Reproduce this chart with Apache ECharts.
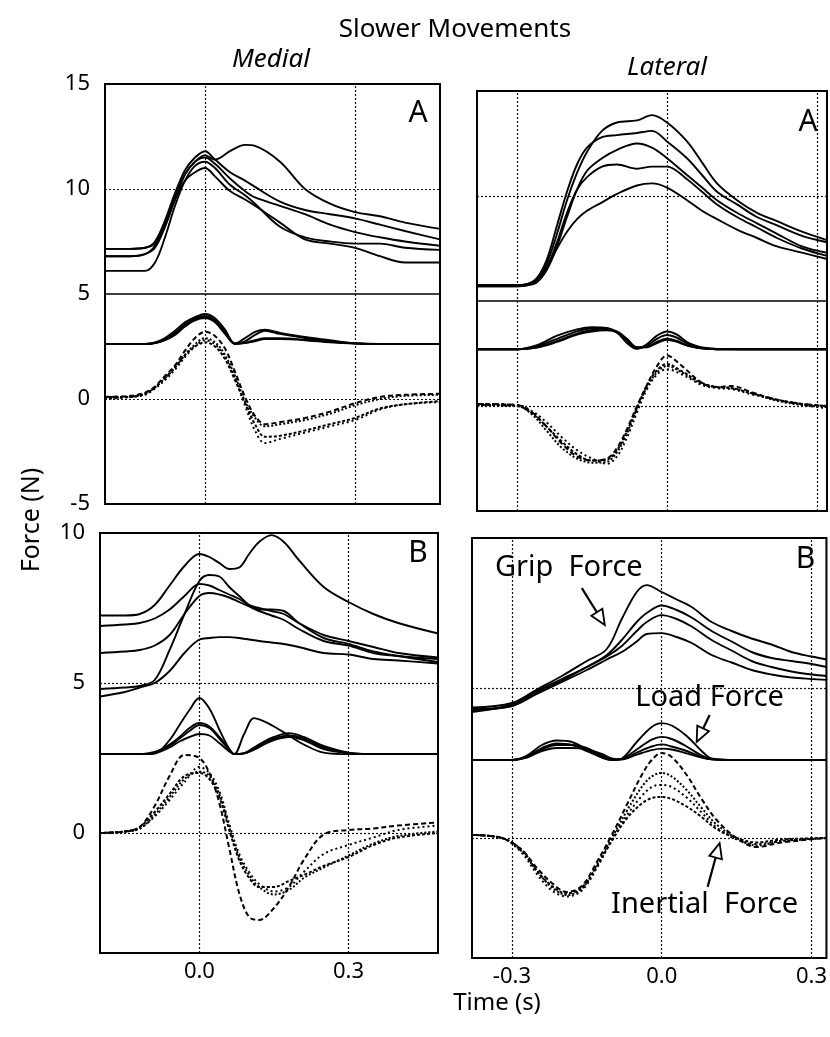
<!DOCTYPE html>
<html><head><meta charset="utf-8">
<script src="https://cdn.jsdelivr.net/npm/echarts@6/dist/echarts.min.js"></script>
<style>html,body{margin:0;padding:0;background:#fff}#c{width:830px;height:1037px}</style>
</head><body><div id="c"></div>
<script>
// ---------- DATA ----------
// Top-left: Medial A
const tlGripT = [-0.2,-0.15,-0.12,-0.1,-0.08,-0.06,-0.04,-0.02,0,0.02,0.05,0.08,0.1,0.15,0.2,0.25,0.3,0.35,0.4,0.47];
const tlGrip = [
 [6.8,6.8,6.9,7.3,8.3,9.6,10.7,11.3,11.6,11.4,11.8,12.1,12.05,11.3,10.0,9.3,8.9,8.7,8.4,8.1],
 [7.15,7.15,7.2,7.5,8.5,9.8,10.9,11.5,11.8,11.4,10.8,10.4,10.1,9.4,9.0,8.8,8.6,8.3,8.0,7.6],
 [6.8,6.8,6.9,7.2,8.2,9.5,10.7,11.3,11.5,11.2,10.5,9.9,9.6,9.2,8.8,8.3,7.95,7.7,7.5,7.3],
 [6.1,6.1,6.1,6.5,7.7,9.2,10.4,11.1,11.3,11.0,10.2,9.7,9.3,8.2,7.7,7.5,7.4,7.4,7.2,7.1],
 [7.15,7.15,7.2,7.4,8.3,9.5,10.4,10.8,11.0,10.6,9.9,9.5,9.2,8.4,7.6,7.4,7.2,6.8,6.5,6.5]
];
const tlLoadT = [-0.2,-0.12,-0.1,-0.08,-0.06,-0.04,-0.02,0,0.02,0.04,0.06,0.08,0.1,0.12,0.15,0.2,0.25,0.3,0.35,0.47];
const tlLoad = [
 [2.62,2.62,2.7,2.9,3.25,3.65,3.9,4.05,3.85,3.3,2.65,2.9,3.2,3.3,3.15,2.95,2.8,2.65,2.62,2.62],
 [2.62,2.62,2.68,2.85,3.15,3.55,3.85,3.95,3.75,3.2,2.63,2.75,3.05,3.25,3.1,2.9,2.75,2.65,2.62,2.62],
 [2.62,2.62,2.66,2.8,3.05,3.45,3.75,3.85,3.65,3.1,2.63,2.66,2.75,2.85,2.85,2.8,2.7,2.64,2.62,2.62],
 [2.62,2.62,2.66,2.82,3.1,3.5,3.8,3.9,3.7,3.15,2.63,2.68,2.8,2.9,2.9,2.82,2.72,2.65,2.62,2.62]
];
const tlInT = [-0.2,-0.15,-0.12,-0.1,-0.08,-0.06,-0.04,-0.02,0,0.02,0.04,0.06,0.08,0.1,0.12,0.15,0.2,0.25,0.3,0.35,0.4,0.47];
const tlIn = [
 [0.1,0.15,0.3,0.6,1.1,1.6,2.3,2.9,3.2,3.0,2.4,1.3,0.1,-0.8,-1.2,-1.1,-0.9,-0.6,-0.2,0.1,0.2,0.25],
 [0.05,0.1,0.25,0.55,1.0,1.5,2.1,2.6,2.9,2.7,2.1,1.1,-0.1,-0.9,-1.3,-1.2,-1.0,-0.7,-0.3,0.0,0.15,0.2],
 [0.0,0.1,0.2,0.5,0.9,1.4,2.0,2.5,2.8,2.6,2.0,1.0,-0.3,-1.5,-2.1,-1.9,-1.6,-1.3,-1.0,-0.5,-0.25,-0.15],
 [0.1,0.1,0.25,0.55,1.0,1.5,2.1,2.5,2.7,2.5,1.9,0.9,-0.2,-1.2,-1.8,-1.75,-1.5,-1.2,-0.9,-0.45,-0.25,-0.1]
];
// Top-right: Lateral A
const trGripT = [-0.38,-0.3,-0.28,-0.26,-0.24,-0.22,-0.2,-0.18,-0.16,-0.13,-0.1,-0.06,-0.03,0,0.04,0.07,0.1,0.14,0.18,0.22,0.27,0.32];
const trGrip = [
 [5.75,5.75,5.8,6.0,6.8,8.2,9.8,11.1,12.1,13.1,13.5,13.6,13.85,13.5,12.6,11.6,10.6,9.8,9.2,8.8,8.3,7.9],
 [5.75,5.75,5.8,6.1,7.0,8.6,10.2,11.5,12.3,12.8,12.9,13.0,13.1,12.6,11.8,11.0,10.2,9.6,9.0,8.6,8.1,7.8],
 [5.7,5.7,5.75,5.9,6.5,7.6,9.0,10.3,11.2,11.8,12.2,12.5,12.3,11.8,11.0,10.4,9.8,9.2,8.7,8.2,7.6,7.3],
 [5.7,5.7,5.75,5.9,6.6,7.8,9.2,10.3,10.9,11.4,11.5,11.3,11.4,11.4,10.8,10.2,9.6,9.0,8.5,8.0,7.5,7.15],
 [5.75,5.75,5.8,6.0,6.6,7.5,8.3,8.9,9.3,9.7,10.1,10.5,10.6,10.4,9.8,9.3,8.9,8.4,8.0,7.6,7.3,7.0]
];
const trLoadT = [-0.38,-0.3,-0.26,-0.22,-0.18,-0.15,-0.12,-0.1,-0.08,-0.06,-0.04,-0.02,0,0.02,0.04,0.06,0.08,0.1,0.15,0.32];
const trLoad = [
 [2.7,2.7,2.9,3.35,3.65,3.75,3.7,3.5,3.0,2.72,2.95,3.35,3.55,3.4,3.05,2.85,2.76,2.72,2.7,2.7],
 [2.7,2.7,2.85,3.2,3.55,3.7,3.7,3.5,3.1,2.75,2.88,3.2,3.38,3.25,2.98,2.8,2.73,2.7,2.7,2.7],
 [2.7,2.7,2.8,3.1,3.45,3.62,3.65,3.55,3.2,2.8,2.82,3.05,3.2,3.1,2.9,2.78,2.72,2.7,2.7,2.7],
 [2.7,2.7,2.78,3.05,3.4,3.55,3.6,3.5,3.15,2.78,2.8,3.0,3.15,3.05,2.88,2.77,2.72,2.7,2.7,2.7]
];
const trInT = [-0.38,-0.3,-0.27,-0.24,-0.21,-0.18,-0.15,-0.12,-0.1,-0.08,-0.06,-0.04,-0.02,0,0.03,0.07,0.1,0.13,0.17,0.22,0.27,0.32];
const trIn = [
 [0.1,0.05,-0.3,-1.0,-1.8,-2.4,-2.6,-2.5,-2.0,-1.1,0.0,1.0,1.9,2.4,1.9,1.1,0.9,0.95,0.65,0.3,0.1,0.0],
 [0.05,0.0,-0.4,-1.2,-2.0,-2.5,-2.7,-2.65,-2.2,-1.3,-0.1,0.9,1.6,1.9,1.6,1.05,0.9,0.85,0.6,0.25,0.05,-0.05],
 [0.1,0.05,-0.25,-0.8,-1.5,-2.1,-2.5,-2.75,-2.4,-1.5,-0.3,0.8,1.5,1.75,1.5,1.0,0.85,0.8,0.55,0.3,0.05,-0.1],
 [0.05,0.0,-0.35,-1.0,-1.7,-2.3,-2.6,-2.55,-2.1,-1.2,-0.1,1.0,1.7,2.0,1.65,1.1,0.9,0.85,0.6,0.3,0.1,0.0]
];
// Bottom-left: Medial B
const blGripT = [-0.2,-0.15,-0.12,-0.09,-0.06,-0.03,0,0.02,0.04,0.06,0.08,0.1,0.12,0.145,0.17,0.2,0.25,0.3,0.35,0.4,0.48];
const blGrip = [
 [7.25,7.25,7.3,7.6,8.25,8.9,9.3,9.2,9.0,8.8,8.85,9.3,9.7,9.93,9.7,9.1,8.2,7.7,7.3,7.0,6.65],
 [6.9,6.95,7.0,7.15,7.45,7.9,8.3,8.25,8.1,7.95,7.8,7.6,7.5,7.4,7.3,7.0,6.6,6.4,6.2,6.0,5.85],
 [6.0,6.05,6.1,6.25,6.6,7.3,7.9,8.0,7.95,7.85,7.7,7.55,7.4,7.25,7.1,6.8,6.4,6.25,6.0,5.9,5.8],
 [4.8,4.85,4.9,5.1,6.1,7.3,8.4,8.6,8.55,8.2,7.9,7.6,7.45,7.45,7.4,7.0,6.5,6.3,6.05,5.9,5.7],
 [4.55,4.7,4.85,5.0,5.4,6.0,6.45,6.5,6.53,6.53,6.5,6.45,6.4,6.35,6.3,6.2,6.0,5.95,5.8,5.75,5.65]
];
const blLoadT = [-0.2,-0.12,-0.09,-0.06,-0.04,-0.02,0,0.02,0.04,0.06,0.07,0.09,0.11,0.13,0.15,0.18,0.21,0.25,0.3,0.35,0.48];
const blLoad = [
 [2.63,2.63,2.65,3.1,3.6,4.1,4.5,4.15,3.45,2.8,2.63,3.3,3.83,3.72,3.55,3.25,2.95,2.68,2.63,2.63,2.63],
 [2.63,2.63,2.7,2.95,3.2,3.5,3.67,3.55,3.2,2.8,2.63,2.66,2.85,3.05,3.2,3.33,3.2,2.9,2.68,2.63,2.63],
 [2.63,2.63,2.68,2.9,3.15,3.4,3.6,3.5,3.15,2.78,2.63,2.66,2.8,3.0,3.15,3.25,3.15,2.85,2.67,2.63,2.63],
 [2.63,2.63,2.66,2.85,3.05,3.2,3.3,3.25,3.0,2.72,2.63,2.65,2.78,2.95,3.1,3.2,3.1,2.8,2.66,2.63,2.63]
];
const blInT = [-0.2,-0.15,-0.12,-0.09,-0.06,-0.03,0,0.02,0.04,0.06,0.08,0.1,0.12,0.15,0.18,0.21,0.25,0.3,0.35,0.4,0.48];
const blIn = [
 [0,0.05,0.2,0.9,1.9,2.6,2.5,2.0,1.0,-0.5,-2.0,-2.8,-2.9,-2.5,-1.8,-0.9,-0.05,0.1,0.15,0.25,0.35],
 [0,0.05,0.15,0.6,1.2,1.8,2.05,1.9,1.3,0.2,-0.8,-1.4,-1.8,-2.05,-1.9,-1.5,-1.15,-0.75,-0.35,-0.1,0.05],
 [0,0.05,0.15,0.55,1.1,1.7,2.2,2.0,1.4,0.3,-0.7,-1.3,-1.7,-1.95,-1.8,-1.3,-0.7,-0.4,-0.15,0.1,0.25],
 [0,0.05,0.2,0.7,1.3,1.9,2.0,1.8,1.2,0.1,-0.9,-1.5,-1.8,-1.8,-1.6,-1.4,-1.1,-0.8,-0.4,-0.15,0.0]
];
// Bottom-right: Lateral B
const brGripT = [-0.38,-0.3,-0.25,-0.2,-0.15,-0.11,-0.08,-0.05,-0.03,0,0.03,0.06,0.1,0.14,0.18,0.22,0.26,0.3,0.33];
const brGrip = [
 [4.35,4.5,4.95,5.4,5.9,6.3,7.3,8.2,8.43,8.2,7.95,7.7,7.2,6.9,6.65,6.45,6.2,6.05,5.95],
 [4.2,4.45,4.9,5.3,5.7,6.1,6.6,7.2,7.5,7.75,7.6,7.35,6.9,6.55,6.2,6.0,5.9,5.8,5.7],
 [4.3,4.4,4.85,5.25,5.7,6.05,6.4,6.9,7.2,7.43,7.3,7.05,6.6,6.25,5.9,5.7,5.55,5.45,5.4],
 [4.25,4.4,4.8,5.2,5.6,5.95,6.2,6.55,6.8,6.83,6.7,6.5,6.1,5.85,5.6,5.45,5.35,5.3,5.27]
];
const brLoadT = [-0.38,-0.3,-0.27,-0.24,-0.21,-0.18,-0.15,-0.12,-0.1,-0.08,-0.05,-0.02,0,0.02,0.05,0.08,0.1,0.15,0.33];
const brLoad = [
 [2.6,2.6,2.75,3.1,3.25,3.2,2.95,2.7,2.6,2.65,3.2,3.7,3.83,3.75,3.4,2.9,2.65,2.6,2.6],
 [2.6,2.6,2.72,3.0,3.15,3.1,2.9,2.68,2.6,2.63,2.95,3.28,3.37,3.3,3.05,2.75,2.63,2.6,2.6],
 [2.6,2.6,2.7,2.95,3.1,3.1,3.0,2.75,2.62,2.62,2.85,3.05,3.12,3.05,2.9,2.7,2.62,2.6,2.6],
 [2.6,2.6,2.68,2.9,3.0,3.0,2.95,2.8,2.65,2.62,2.78,2.93,2.98,2.95,2.82,2.68,2.62,2.6,2.6]
];
const brInT = [-0.38,-0.32,-0.28,-0.25,-0.22,-0.19,-0.16,-0.13,-0.1,-0.07,-0.04,-0.02,0,0.02,0.05,0.08,0.11,0.15,0.19,0.24,0.33];
const brIn = [
 [0.1,0.0,-0.4,-1.0,-1.5,-1.8,-1.6,-0.8,0.1,1.1,2.1,2.6,2.83,2.7,2.1,1.3,0.6,0.0,-0.3,-0.15,0.0],
 [0.1,0.0,-0.45,-1.1,-1.65,-1.9,-1.7,-0.9,0.0,0.9,1.7,2.05,2.17,2.05,1.6,1.0,0.45,0.0,-0.25,-0.1,0.0],
 [0.1,0.0,-0.5,-1.2,-1.75,-1.95,-1.75,-1.0,-0.05,0.75,1.4,1.7,1.77,1.7,1.35,0.85,0.35,-0.05,-0.2,-0.1,0.0],
 [0.1,0.0,-0.4,-1.1,-1.6,-1.85,-1.65,-0.95,-0.1,0.65,1.15,1.33,1.37,1.3,1.05,0.7,0.3,0.0,-0.15,-0.05,0.0]
];
// Axis ticks / reference lines
const topYLabels = [15, 10, 5, 0, -5];
const botYLabels = [10, 5, 0];
const leftXLabels = [0, 0.3];
const rightXLabels = [-0.3, 0, 0.3];
const topDottedY = [10, 0];
const topSolidY = [5];
const botDottedY = [5, 0];

// ---------- CHART ----------
const FONT = 'Noto Sans';
const chart = echarts.init(document.getElementById('c'));
const panels = [
  {grid:{left:105, top:84, width:335, height:420}, x:[-0.2,0.47], y:[-5,15], xl:leftXLabels, yl:topYLabels, showX:false, showY:true,
   dotY:topDottedY, solidY:topSolidY, G:[tlGripT,tlGrip], L:[tlLoadT,tlLoad], I:[tlInT,tlIn]},
  {grid:{left:477, top:91, width:350, height:420}, x:[-0.38,0.32], y:[-5,15], xl:rightXLabels, yl:topYLabels, showX:false, showY:false,
   dotY:topDottedY, solidY:topSolidY, G:[trGripT,trGrip], L:[trLoadT,trLoad], I:[trInT,trIn]},
  {grid:{left:100, top:533, width:338, height:420}, x:[-0.2,0.48], y:[-4,10], xl:leftXLabels, yl:botYLabels, showX:true, showY:true,
   dotY:botDottedY, solidY:[], G:[blGripT,blGrip], L:[blLoadT,blLoad], I:[blInT,blIn]},
  {grid:{left:472, top:538, width:355, height:420}, x:[-0.38,0.33], y:[-4,10], xl:rightXLabels, yl:botYLabels, showX:true, showY:false,
   dotY:botDottedY, solidY:[], G:[brGripT,brGrip], L:[brLoadT,brLoad], I:[brInT,brIn]}
];
const grid=[], xAxis=[], yAxis=[], series=[];
const dashTypes = [[5,3],'dotted',[2,3],[3,2]];
panels.forEach((p,gi)=>{
  grid.push(Object.assign({show:true, borderColor:'#000', borderWidth:2, backgroundColor:'transparent'}, p.grid));
  xAxis.push({type:'value', gridIndex:gi, min:p.x[0], max:p.x[1],
    axisLine:{show:false}, axisTick:{show:false}, splitLine:{show:false},
    axisLabel:{show:p.showX, customValues:p.xl, formatter:v=>v.toFixed(1), color:'#000', fontSize:22, fontFamily:FONT, margin:8}});
  yAxis.push({type:'value', gridIndex:gi, min:p.y[0], max:p.y[1],
    axisLine:{show:false}, axisTick:{show:false}, splitLine:{show:false},
    axisLabel:{show:p.showY, customValues:p.yl, color:'#000', fontSize:22, fontFamily:FONT, margin:15}});
  const ml = [];
  p.xl.forEach(v=>ml.push({xAxis:v, lineStyle:{type:[2,2], width:1.2, color:'#111'}}));
  p.dotY.forEach(v=>ml.push({yAxis:v, lineStyle:{type:[2,2], width:1.2, color:'#111'}}));
  p.solidY.forEach(v=>ml.push({yAxis:v, lineStyle:{type:'solid', width:1.6, color:'#000'}}));
  const add=(T,arr,kind)=>arr.forEach((ys,k)=>{
    const s = {type:'line', xAxisIndex:gi, yAxisIndex:gi, data:T.map((t,i)=>[t,ys[i]]),
      showSymbol:false, symbol:'none', smooth:0.35, animation:false, silent:true,
      lineStyle:{color:'#000', width: kind==='I'?2:1.9, type: kind==='I'?dashTypes[k%4]:'solid'}, z:3};
    if(kind==='G' && k===0){ s.markLine={symbol:['none','none'], silent:true, animation:false, label:{show:false}, data:ml}; }
    series.push(s);
  });
  add(p.G[0],p.G[1],'G'); add(p.L[0],p.L[1],'L'); add(p.I[0],p.I[1],'I');
});
chart.setOption({animation:false, grid, xAxis, yAxis, series});

// ---------- ANNOTATIONS ----------
const px=(gi,pt)=>chart.convertToPixel({gridIndex:gi}, pt);
const txt=(x,y,t,size,extra)=>Object.assign({type:'text', x, y, silent:true,
  style:Object.assign({text:t, fontSize:size, fontFamily:FONT, fill:'#000', align:'center', verticalAlign:'middle'}, extra||{})});
function arrow(p0,p1){
  const dx=p1[0]-p0[0], dy=p1[1]-p0[1], L=Math.hypot(dx,dy), ux=dx/L, uy=dy/L;
  const hl=15, hw=6.5, bx=p1[0]-ux*hl, by=p1[1]-uy*hl, nx=-uy, ny=ux;
  return [
    {type:'polyline', silent:true, shape:{points:[p0,[bx,by]]}, style:{stroke:'#000', lineWidth:2.2, fill:null}},
    {type:'polygon', silent:true, shape:{points:[p1,[bx+nx*hw,by+ny*hw],[bx-nx*hw,by-ny*hw]]}, style:{stroke:'#000', lineWidth:1.8, fill:'#fff'}}
  ];
}
const g=[];
g.push(txt(455,30,'Slower Movements',26));
g.push(txt(271,60,'Medial',26,{fontStyle:'italic'}));
g.push(txt(667,68,'Lateral',26,{fontStyle:'italic'}));
const fy = txt(32,520,'Force (N)',25); fy.rotation=Math.PI/2; g.push(fy);
g.push(txt(497,1003,'Time (s)',24));
let q;
q=px(0,[0.426,13.6]); g.push(txt(q[0],q[1],'A',30));
q=px(1,[0.282,13.5]); g.push(txt(q[0],q[1],'A',30));
q=px(2,[0.44,9.33]); g.push(txt(q[0],q[1],'B',30));
q=px(3,[0.288,9.27]); g.push(txt(q[0],q[1],'B',30));
q=px(3,[-0.186,9.0]); g.push(txt(q[0],q[1],'Grip  Force',29));
q=px(3,[0.096,4.67]); g.push(txt(q[0],q[1],'Load Force',29));
q=px(3,[0.086,-2.23]); g.push(txt(q[0],q[1],'Inertial  Force',29));
g.push(...arrow(px(3,[-0.16,8.33]), px(3,[-0.114,7.1])));
g.push(...arrow(px(3,[0.096,4.1]), px(3,[0.07,3.2])));
g.push(...arrow(px(3,[0.092,-1.63]), px(3,[0.116,-0.17])));
chart.setOption({graphic:g});
</script></body></html>
